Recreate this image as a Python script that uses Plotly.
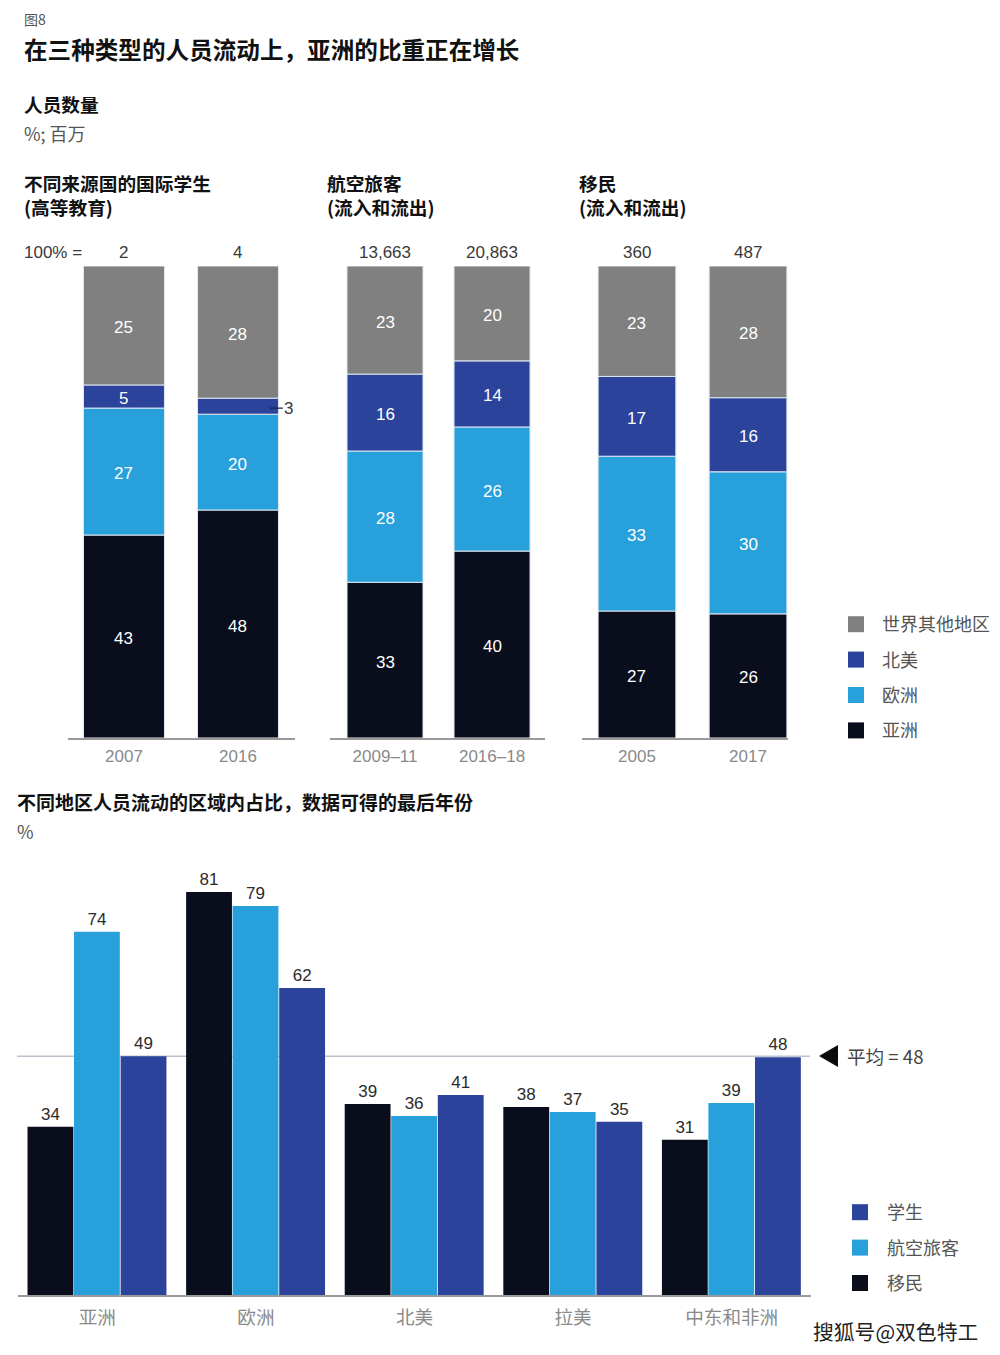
import plotly.graph_objects as go

W, H = 1000, 1355
SANS = "Liberation Sans, Noto Sans CJK SC, sans-serif"
CJK = "Noto Sans CJK SC, Liberation Sans, sans-serif"

# ---- data ----
region_names = ["亚洲", "欧洲", "北美", "世界其他地区"]
region_colors = ["#090d1c", "#28a0dc", "#2b439b", "#808080"]

student_years = ["2007", "2016"]
student_totals = ["2", "4"]
student_asia = [43.0, 48.3]
student_europe = [26.9, 20.3]
student_na = [4.9, 3.4]
student_row = [25.2, 28.0]

air_years = ["2009–11", "2016–18"]
air_totals = ["13,663", "20,863"]
air_asia = [33.0, 39.6]
air_europe = [27.8, 26.3]
air_na = [16.3, 14.0]
air_row = [22.9, 20.1]

mig_years = ["2005", "2017"]
mig_totals = ["360", "487"]
mig_asia = [26.9, 26.3]
mig_europe = [32.8, 30.1]
mig_na = [16.9, 15.7]
mig_row = [23.4, 27.9]

regions = ["亚洲", "欧洲", "北美", "拉美", "中东和非洲"]
# printed labels
migrants_labels = [34, 81, 39, 38, 31]
air_share_labels = [74, 79, 36, 37, 39]
students_labels = [49, 62, 41, 35, 48]
# bar heights as drawn in the picture
migrants = [33.8, 81.0, 38.4, 37.8, 31.2]
air_share = [73.0, 78.2, 36.0, 36.8, 38.6]
students = [48.0, 61.7, 40.2, 34.8, 47.8]
average = 48

fig = go.Figure()


def px_x(x0, x1):
    return [x0 / W, x1 / W]


def px_y(top, bottom):
    return [1 - bottom / H, 1 - top / H]


panels = [
    ("x", "y", student_years, student_totals,
     [student_asia, student_europe, student_na, student_row],
     (68, 295), (-0.491, 1.5), 0.71),
    ("x2", "y2", air_years, air_totals,
     [air_asia, air_europe, air_na, air_row],
     (330, 545), (-0.514, 1.495), 0.71),
    ("x3", "y3", mig_years, mig_totals,
     [mig_asia, mig_europe, mig_na, mig_row],
     (582, 788), (-0.495, 1.36), 0.70),
]

annotations = []
layout_axes = {}

for idx, (xa, ya, cats, totals, series, xpx, xr, bw) in enumerate(panels):
    base = [0, 0]
    for name, color, vals in zip(region_names, region_colors, series):
        fig.add_trace(go.Bar(
            x=cats, y=vals, base=list(base), width=bw, name=name,
            xaxis=xa, yaxis=ya, showlegend=False,
            marker=dict(color=color, line=dict(color="#dfe6ee", width=1)),
            hoverinfo="skip",
        ))
        for i, v in enumerate(vals):
            if v >= 4:  # the 3 in 2016 sits outside the bar with a leader line
                annotations.append(dict(
                    x=i, y=base[i] + v / 2, xref=xa, yref=ya, text=f"{v:.0f}",
                    showarrow=False, yshift=-2,
                    font=dict(size=17, color="white", family=SANS),
                ))
        base = [b + v for b, v in zip(base, vals)]
    for i, t in enumerate(totals):
        annotations.append(dict(
            x=i, y=100, xref=xa, yref=ya, text=t, showarrow=False,
            yanchor="middle", yshift=14,
            font=dict(size=17, color="#3a3a3a", family=SANS),
        ))
    suffix = "" if idx == 0 else str(idx + 1)
    layout_axes["xaxis" + suffix] = dict(
        domain=px_x(*xpx), range=list(xr), type="category",
        showline=True, linecolor="#9a9a9a", linewidth=1.5, showgrid=False,
        ticks="", tickfont=dict(size=17, color="#8a8a8a", family=SANS),
        ticklabelstandoff=2,
        anchor=ya, fixedrange=True, zeroline=False,
    )
    layout_axes["yaxis" + suffix] = dict(
        domain=px_y(266, 738), range=[0, 100], visible=False,
        anchor=xa, fixedrange=True,
    )

# bottom chart
bottom_series = [("移民", "#090d1c", migrants, migrants_labels, -0.44),
                 ("航空旅客", "#28a0dc", air_share, air_share_labels, -0.147),
                 ("学生", "#2b439b", students, students_labels, 0.147)]
for name, color, vals, labs, off in bottom_series:
    fig.add_trace(go.Bar(
        x=regions, y=vals, width=0.289, offset=off, name=name,
        xaxis="x4", yaxis="y4", showlegend=False,
        marker=dict(color=color, line=dict(width=0)),
        text=labs, textposition="outside", cliponaxis=False,
        textangle=0, constraintext="none",
        textfont=dict(color="#2b2b2b", size=17, family=SANS),
        hoverinfo="skip",
    ))
layout_axes["xaxis4"] = dict(
    domain=px_x(18, 811), range=[-0.5, 4.5], type="category",
    showline=True, linecolor="#9a9a9a", linewidth=1.5, showgrid=False,
    ticks="", tickfont=dict(size=18.6, color="#8a8a8a", family=CJK),
    ticklabelstandoff=5,
    anchor="y4", fixedrange=True, zeroline=False,
)
layout_axes["yaxis4"] = dict(
    domain=px_y(797.5, 1295), range=[0, 100], visible=False,
    anchor="x4", fixedrange=True,
)

# legend entries
for name, color in zip(region_names[::-1], region_colors[::-1]):
    fig.add_trace(go.Scatter(
        x=[None], y=[None], mode="markers", name=name, legend="legend",
        legendgroup="a" + name, xaxis="x", yaxis="y",
        marker=dict(symbol="square", size=18, color=color),
    ))
for name, color, vals, labs, off in bottom_series[::-1]:
    fig.add_trace(go.Scatter(
        x=[None], y=[None], mode="markers", name=name, legend="legend2",
        legendgroup="b" + name, xaxis="x4", yaxis="y4",
        marker=dict(symbol="square", size=18, color=color),
    ))


def page_text(x, y, text, size, color, bold=False, family=CJK):
    annotations.append(dict(
        x=(x - 2) / W, y=1 - y / H, xref="paper", yref="paper",
        text=f"<b>{text}</b>" if bold else text,
        showarrow=False, xanchor="left", yanchor="middle", align="left",
        font=dict(size=size, color=color, family=family),
    ))


page_text(24, 18.5, "图8", 14, "#555555")
page_text(24, 49, "在三种类型的人员流动上，亚洲的比重正在增长", 23.6, "#111111", True)
page_text(24, 104, "人员数量", 18.7, "#111111", True)
page_text(24, 133, "%; 百万", 18, "#555555")
page_text(24, 194.5, "不同来源国的国际学生<br>(高等教育)", 18.7, "#111111", True)
page_text(327, 194.5, "航空旅客<br>(流入和流出)", 18.7, "#111111", True)
page_text(579, 194.5, "移民<br>(流入和流出)", 18.7, "#111111", True)
page_text(24, 252, "100% =", 17, "#3a3a3a", family=SANS)
page_text(17, 801, "不同地区人员流动的区域内占比，数据可得的最后年份", 19, "#111111", True)
page_text(17, 831, "%", 18, "#555555")
page_text(847, 1055, "平均 = 48", 18.6, "#444444")
page_text(813, 1331, "搜狐号@双色特工", 20.8, "#222222")

# the 3 outside the thin 2016 bar, with its leader line
annotations.append(dict(
    x=1.28, y=student_asia[1] + student_europe[1] + student_na[1] / 2,
    xref="x", yref="y", text="3", showarrow=True, arrowhead=0, arrowwidth=1.2,
    arrowcolor="#16224f", ax=19, ay=0, yshift=-2, standoff=0,
    font=dict(size=17, color="#3a3a3a", family=SANS),
))

shapes = [
    dict(type="line", xref="paper", yref="y4", x0=17 / W, x1=810 / W, y0=average, y1=average,
         line=dict(color="#bcc3cf", width=1.5), layer="below"),
    dict(type="path", xref="paper", yref="paper",
         path=f"M {838/W},{1-1045/H} L {819/W},{1-1056/H} L {838/W},{1-1067/H} Z",
         fillcolor="#0b0b0b", line=dict(width=0)),
]

fig.update_layout(
    width=W, height=H, margin=dict(l=0, r=0, t=0, b=0),
    paper_bgcolor="white", plot_bgcolor="rgba(0,0,0,0)",
    barmode="overlay", font=dict(family=CJK),
    annotations=annotations, shapes=shapes,
    legend=dict(x=830 / W, y=1 - 606 / H, xanchor="left", yanchor="top",
                itemwidth=42, tracegroupgap=9, traceorder="grouped",
                bgcolor="rgba(0,0,0,0)", itemclick=False, itemdoubleclick=False,
                font=dict(size=18, color="#555555", family=CJK)),
    legend2=dict(x=833 / W, y=1 - 1194 / H, xanchor="left", yanchor="top",
                 itemwidth=44, tracegroupgap=9, traceorder="grouped",
                 bgcolor="rgba(0,0,0,0)", itemclick=False, itemdoubleclick=False,
                 font=dict(size=18, color="#555555", family=CJK)),
    **layout_axes,
)

fig.write_html("out.html", post_script="document.body.style.margin='0';",
               config=dict(displayModeBar=False))
